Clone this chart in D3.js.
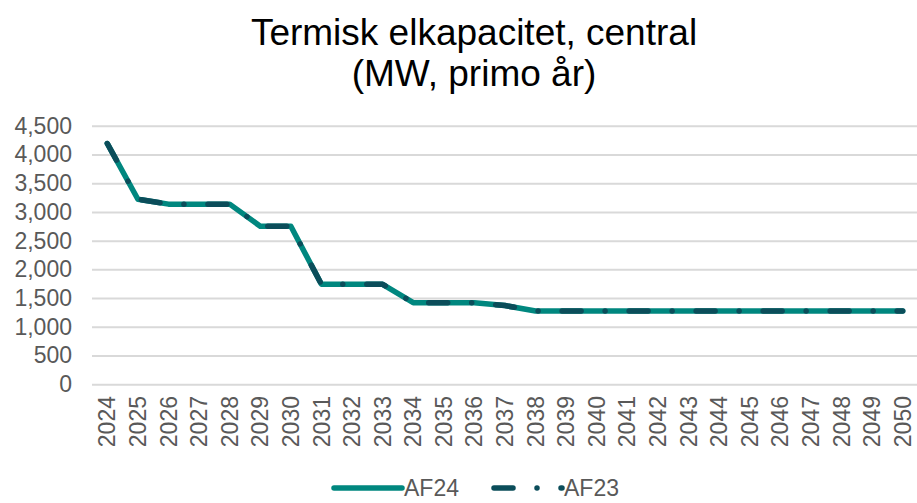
<!DOCTYPE html>
<html>
<head>
<meta charset="utf-8">
<script src="https://cdn.jsdelivr.net/npm/d3@7"></script>
<style>
  body { margin: 0; background: #fff; }
  text { font-family: "Liberation Sans", Arial, sans-serif; }
</style>
</head>
<body>
<svg width="917" height="503"></svg>
<script>
var years = d3.range(2024, 2051).map(String);
var af24 = [4190, 3220, 3135, 3135, 3135, 2750, 2750, 1740, 1740, 1740, 1420, 1420, 1420, 1370, 1275,
            1275, 1275, 1275, 1275, 1275, 1275, 1275, 1275, 1275, 1275, 1275, 1275];
var af23 = [4190, 3220, 3135, 3135, 3135, 2750, 2750, 1740, 1740, 1740, 1420, 1420, 1420, 1370, 1275,
            1275, 1275, 1275, 1275, 1275, 1275, 1275, 1275, 1275, 1275, 1275, 1275];
var yTicks = [0, 500, 1000, 1500, 2000, 2500, 3000, 3500, 4000, 4500];

var svg = d3.select("svg");
var teal = "#00877f", dark = "#0b4d5a";
var fs = 23;

var x = d3.scaleBand().domain(years).range([92, 918]);
var y = d3.scaleLinear().domain([0, 4500]).range([384.3, 125.7]);

// title
svg.append("text").attr("x", 474).attr("y", 45).attr("text-anchor", "middle")
   .attr("font-size", 37).attr("fill", "#000").text("Termisk elkapacitet, central");
svg.append("text").attr("x", 474).attr("y", 86).attr("text-anchor", "middle")
   .attr("font-size", 37).attr("fill", "#000").text("(MW, primo år)");

// grid + y labels
var yAxis = svg.append("g").attr("transform", "translate(92,0)")
   .call(d3.axisLeft(y).tickValues(yTicks).tickSize(-826).tickPadding(20)
         .tickFormat(d3.format(",")));
yAxis.select(".domain").remove();
yAxis.selectAll(".tick line").attr("stroke", "#d9d9d9").attr("stroke-width", 2);
yAxis.selectAll(".tick text").attr("font-size", fs).attr("fill", "#595959")
   .attr("font-family", "Liberation Sans, Arial, sans-serif");

// x labels
var xAxis = svg.append("g").attr("transform", "translate(0,384)")
   .call(d3.axisBottom(x).tickSize(0).tickPadding(0));
xAxis.select(".domain").remove();
xAxis.selectAll(".tick text")
   .attr("font-size", fs).attr("fill", "#595959")
   .attr("font-family", "Liberation Sans, Arial, sans-serif")
   .attr("transform", "rotate(-90)")
   .attr("text-anchor", "end").attr("x", -12).attr("y", 0).attr("dy", "0.35em");

var line = d3.line()
   .x(function(d, i){ return x(years[i]) + x.bandwidth() / 2; })
   .y(function(d){ return y(d); });

svg.append("path").datum(af24).attr("d", line)
   .attr("fill", "none").attr("stroke", teal).attr("stroke-width", 5.5)
   .attr("stroke-linejoin", "round").attr("stroke-linecap", "round");
svg.append("path").datum(af23).attr("d", line)
   .attr("fill", "none").attr("stroke", dark).attr("stroke-width", 5.5)
   .attr("stroke-linejoin", "round").attr("stroke-linecap", "round")
   .attr("stroke-dasharray", "19 24 0.01 24");

// legend
var lg = svg.append("g");
lg.append("line").attr("x1", 334).attr("x2", 402).attr("y1", 488).attr("y2", 488)
  .attr("stroke", teal).attr("stroke-width", 5.5).attr("stroke-linecap", "round");
lg.append("text").attr("x", 404).attr("y", 496).attr("font-size", fs).attr("fill", "#595959").text("AF24");
lg.append("line").attr("x1", 494).attr("x2", 562).attr("y1", 488).attr("y2", 488)
  .attr("stroke", dark).attr("stroke-width", 5.5).attr("stroke-linecap", "round")
  .attr("stroke-dasharray", "19 24 0.01 24");
lg.append("text").attr("x", 564).attr("y", 496).attr("font-size", fs).attr("fill", "#595959").text("AF23");
</script>
</body>
</html>
